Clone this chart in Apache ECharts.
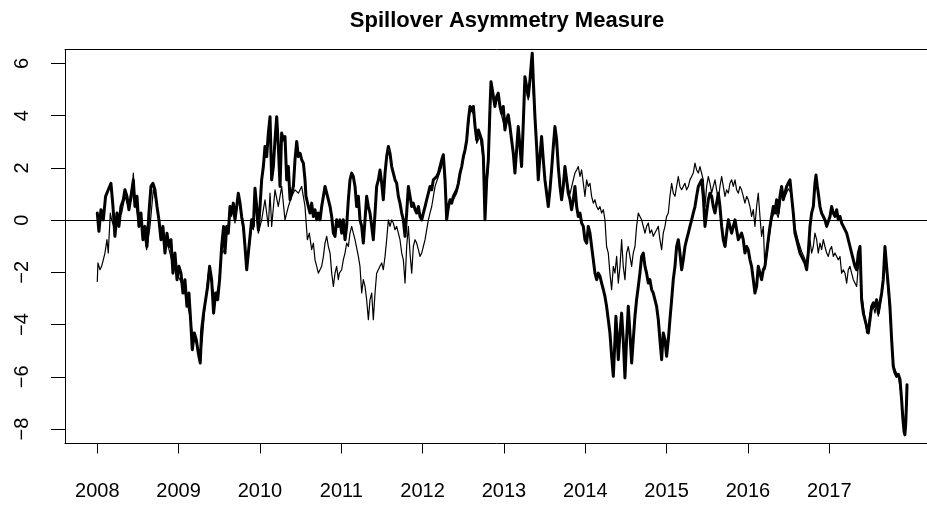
<!DOCTYPE html>
<html>
<head>
<meta charset="utf-8">
<script src="https://cdn.jsdelivr.net/npm/echarts@6/dist/echarts.min.js"></script>
<style>html,body{margin:0;padding:0;background:#fff;overflow:hidden}#c{width:927px;height:508px}</style>
</head>
<body>
<div id="c"></div>
<script>
const titleText = 'Spillover Asymmetry Measure';
const xTickYears = [2008,2009,2010,2011,2012,2013,2014,2015,2016,2017];
const yTicks = [-8,-6,-4,-2,0,2,4,6];

// thick series (first measure)
const thickYears = [
2008.000,2008.020,2008.045,2008.074,2008.102,2008.135,2008.168,2008.193,2008.217,2008.242,2008.266,2008.291,2008.320,2008.340,2008.365,2008.389,2008.414,2008.443,2008.463,2008.488,2008.512,2008.537,2008.561,2008.586,2008.611,2008.635,2008.660,2008.684,2008.709,2008.734,2008.758,2008.783,2008.807,2008.832,2008.857,2008.881,2008.906,2008.930,2008.955,2008.980,2009.004,2009.029,2009.053,2009.078,2009.102,2009.127,2009.152,2009.168,2009.193,2009.217,2009.242,2009.266,2009.283,2009.307,2009.332,2009.357,2009.381,2009.406,2009.430,2009.455,2009.480,2009.504,2009.529,2009.553,
2009.570,2009.591,2009.611,2009.632,2009.652,2009.673,2009.693,2009.714,2009.734,2009.755,2009.775,2009.796,2009.816,2009.837,2009.857,2009.878,2009.898,2009.919,2009.939,2009.960,2009.980,2010.001,2010.021,2010.042,2010.062,2010.083,2010.103,2010.124,2010.144,2010.165,2010.185,2010.206,2010.226,2010.247,2010.267,2010.288,2010.308,2010.329,2010.349,2010.370,2010.390,2010.411,2010.431,2010.452,2010.472,2010.493,2010.513,2010.534,2010.554,2010.566,2010.595,2010.616,2010.636,2010.657,2010.677,2010.698,2010.718,2010.739,2010.759,2010.780,2010.800,2010.821,2010.841,2010.862,2010.882,2010.903,2010.923,2010.943,2010.964,2010.984,2011.005,2011.025,2011.046,2011.066,2011.087,2011.107,2011.128,2011.148,2011.169,2011.189,
2011.210,2011.230,2011.251,2011.271,2011.292,2011.312,2011.333,2011.353,2011.374,2011.394,2011.415,2011.435,2011.456,2011.476,2011.497,2011.517,2011.538,2011.558,2011.579,2011.599,2011.620,2011.640,2011.661,2011.681,2011.702,2011.722,2011.743,2011.763,2011.784,2011.804,2011.825,2011.845,2011.866,2011.886,2011.907,2011.927,2011.948,2011.968,2011.989,2012.009,2012.030,2012.050,2012.071,2012.091,2012.112,2012.132,2012.153,2012.173,2012.194,2012.214,2012.235,2012.255,2012.276,2012.296,2012.317,2012.337,2012.358,2012.378,2012.399,2012.419,2012.440,2012.460,2012.481,2012.501,2012.522,2012.542,2012.563,2012.583,2012.604,2012.624,2012.645,2012.665,2012.686,2012.706,2012.727,2012.747,2012.767,2012.788,2012.808,2012.829,2012.841,2012.858,2012.870,
2012.889,2012.910,2012.930,2012.951,2012.971,2012.992,2013.012,2013.033,2013.053,2013.074,2013.094,2013.115,2013.135,2013.156,2013.176,2013.197,2013.217,2013.238,2013.258,2013.279,2013.299,2013.320,2013.340,2013.348,2013.361,2013.381,2013.402,2013.422,2013.443,2013.463,2013.484,2013.504,2013.525,2013.545,2013.566,2013.586,2013.607,2013.627,2013.648,2013.668,2013.689,2013.709,2013.730,2013.750,2013.771,2013.791,2013.812,2013.832,2013.853,2013.873,2013.894,2013.914,2013.935,2013.955,2013.976,2013.996,2014.017,2014.037,2014.058,2014.078,2014.099,2014.119,2014.140,2014.160,2014.181,2014.201,2014.222,2014.242,2014.262,2014.283,2014.303,2014.324,2014.345,2014.365,2014.377,2014.394,2014.406,2014.427,2014.447,2014.467,2014.488,2014.508,2014.529,
2014.549,2014.570,2014.590,2014.611,2014.631,2014.652,2014.672,2014.693,2014.713,2014.734,2014.754,2014.775,2014.795,2014.816,2014.836,2014.857,2014.877,2014.898,2014.918,2014.939,2014.959,2014.980,2015.000,2015.021,2015.041,2015.062,2015.082,2015.103,2015.123,2015.144,2015.164,2015.185,2015.205,2015.226,2015.246,2015.267,2015.287,2015.308,2015.328,2015.349,2015.369,2015.390,2015.410,2015.431,2015.451,2015.472,2015.492,2015.513,2015.533,2015.554,2015.574,2015.595,2015.615,2015.636,2015.656,2015.677,2015.697,2015.718,2015.738,2015.759,2015.779,2015.800,2015.820,2015.841,2015.861,2015.882,2015.902,2015.922,2015.943,2015.963,2015.984,2016.004,2016.025,2016.045,2016.066,2016.086,2016.107,2016.127,2016.148,2016.168,2016.189,
2016.209,2016.230,2016.250,2016.271,2016.291,2016.312,2016.332,2016.353,2016.373,2016.394,2016.414,2016.435,2016.455,2016.476,2016.496,2016.517,2016.537,2016.558,2016.578,2016.599,2016.619,2016.640,2016.660,2016.681,2016.701,2016.722,2016.742,2016.763,2016.783,2016.804,2016.824,2016.837,2016.853,2016.865,2016.886,2016.906,2016.927,2016.947,2016.968,2016.988,2017.009,2017.029,2017.050,2017.070,2017.091,2017.111,2017.132,2017.152,2017.173,2017.193,2017.214,2017.234,2017.255,2017.275,2017.296,2017.316,2017.337,2017.357,2017.378,2017.398,2017.419,2017.439,2017.460,2017.480,2017.501,2017.521,2017.542,2017.562,2017.582,2017.603,2017.623,2017.644,2017.664,2017.685,2017.705,2017.726,2017.746,2017.767,2017.787,2017.808,2017.828,2017.849,2017.870,2017.890,2017.905,2017.920,2017.930,2017.940,2017.950,2017.956
];
const thickVals = [
0.27,-0.43,0.40,0.01,0.91,1.16,1.41,0.52,-0.62,0.27,-0.24,0.52,0.78,1.16,0.91,0.40,0.91,1.54,0.52,0.91,-0.24,0.27,-0.75,-0.24,-1.01,0.27,1.29,1.41,1.16,0.52,0.01,-0.75,-0.24,-1.26,-0.50,-1.01,-0.75,-2.03,-1.26,-2.28,-1.77,-2.03,-2.79,-2.28,-3.30,-2.79,-4.07,-4.96,-4.32,-4.58,-5.09,-5.47,-4.19,-3.56,-3.05,-2.54,-1.77,-2.28,-3.56,-2.79,-3.05,-2.28,-1.01,-0.24,
-1.26,-0.24,-0.50,0.52,0.27,0.65,0.01,0.52,1.03,0.65,0.14,-0.24,-1.01,-1.90,-1.26,-0.62,0.01,-0.24,1.22,0.52,-0.37,0.52,1.54,2.05,2.82,2.43,3.33,3.96,1.54,2.05,3.07,3.96,2.82,1.29,3.33,3.07,3.20,1.54,2.05,0.78,1.03,1.29,2.31,3.01,2.43,2.56,2.31,2.18,1.54,0.91,0.52,0.27,0.65,0.14,0.40,0.01,0.27,0.01,0.52,0.91,1.29,1.03,0.78,0.52,0.14,-0.50,-0.62,0.01,-0.24,0.01,-0.50,0.01,-0.75,-0.24,0.78,1.54,1.80,1.67,1.29,0.52,
0.91,0.01,-0.24,-0.88,0.01,0.91,0.52,0.27,-0.24,-0.75,0.27,1.29,1.54,1.92,1.41,0.78,1.80,2.43,2.82,2.56,2.05,1.80,1.54,1.41,0.91,0.65,0.27,0.01,-0.62,0.27,1.29,0.91,0.52,0.65,0.40,0.27,0.52,0.14,0.01,0.27,0.52,0.78,1.03,1.29,1.16,1.54,1.54,1.67,1.80,2.05,2.31,2.50,1.54,0.01,0.52,0.78,0.65,0.91,0.91,1.16,1.41,1.80,2.05,2.43,2.69,3.07,3.84,4.35,4.22,4.35,3.58,3.07,3.45,3.39,3.07,2.43,0.01,1.54,2.31,4.35,5.30,4.98,4.73,
4.35,4.73,4.86,4.35,4.09,4.35,3.45,3.84,4.03,3.58,3.07,2.56,1.80,2.69,3.58,2.82,2.05,3.71,5.49,5.11,4.73,5.37,6.13,6.39,5.37,3.96,2.82,1.54,2.43,3.20,2.31,1.54,1.03,0.52,1.16,1.92,2.82,3.58,3.07,2.05,1.29,0.78,1.29,2.05,1.54,1.03,0.78,0.40,0.78,1.29,0.52,0.14,0.27,-0.11,-0.24,-0.75,-0.88,-0.24,-0.50,-1.01,-1.52,-2.03,-2.28,-2.03,-2.15,-2.41,-2.66,-2.92,-3.30,-3.81,-4.32,-5.21,-5.98,-4.58,-3.68,-4.58,-5.34,-4.32,-3.56,-4.58,-6.04,-4.58,-3.30,
-4.32,-5.47,-4.58,-3.68,-3.05,-2.54,-2.03,-1.39,-1.26,-1.77,-2.03,-2.41,-2.28,-2.66,-2.79,-3.05,-3.30,-3.81,-4.58,-5.34,-4.32,-4.58,-5.21,-4.58,-3.81,-3.05,-2.28,-1.77,-1.01,-0.75,-1.26,-1.90,-1.52,-1.01,-0.75,-0.50,-0.24,0.01,0.27,0.52,0.91,1.29,1.41,1.54,0.91,-0.24,0.27,0.78,1.03,0.91,0.52,0.27,0.65,1.03,0.52,-0.24,-0.75,-1.01,-0.50,0.01,-0.24,-0.50,-0.24,0.01,-0.37,-0.75,-0.62,-0.50,-0.75,-1.26,-1.01,-1.13,-1.52,-1.77,-2.28,-2.79,-2.54,-1.77,-2.03,-2.28,-1.90,
-1.77,-1.26,-0.75,-0.24,0.14,0.52,0.27,0.78,0.27,0.91,1.29,0.78,1.03,1.29,1.41,1.54,0.91,0.27,-0.50,-0.75,-1.01,-1.26,-1.39,-1.52,-1.64,-1.90,-1.26,-0.24,0.27,0.52,1.41,1.73,1.29,1.03,0.52,0.27,0.14,0.01,-0.24,-0.24,0.14,0.52,0.27,0.14,0.40,0.01,0.14,-0.11,-0.24,-0.24,-0.50,-0.50,-1.01,-1.26,-1.52,-1.77,-1.90,-1.26,-1.01,-3.05,-3.56,-3.81,-4.07,-4.32,-3.81,-3.30,-3.17,-3.30,-3.05,-3.56,-3.17,-2.79,-2.28,-1.01,-1.77,-2.54,-3.30,-4.58,-5.60,-5.85,-5.98,-5.90,-6.10,-6.90,-7.60,-8.10,-8.22,-7.80,-7.00,-6.30
];

// thin series (second measure)
const thinYears = [
2008.000,2008.008,2008.033,2008.053,2008.074,2008.094,2008.119,2008.135,2008.160,2008.176,2008.217,2008.258,2008.299,2008.340,2008.381,2008.422,2008.443,2008.463,2008.504,2008.545,2008.586,2008.607,2008.648,2008.689,2008.730,2008.770,2008.811,2008.852,2008.893,2008.934,2008.975,2009.016,2009.057,2009.098,2009.139,2009.180,2009.221,2009.262,2009.291,2009.324,2009.365,2009.406,2009.447,2009.488,2009.529,
2009.570,2009.591,2009.611,2009.632,2009.652,2009.673,2009.693,2009.714,2009.734,2009.755,2009.775,2009.796,2009.816,2009.837,2009.857,2009.878,2009.898,2009.919,2009.939,2009.980,2010.021,2010.062,2010.103,2010.124,2010.144,2010.185,2010.226,2010.267,2010.308,2010.349,2010.390,2010.431,2010.472,2010.513,2010.554,2010.583,2010.607,2010.636,2010.657,2010.677,2010.698,2010.718,2010.739,2010.759,2010.780,2010.800,2010.821,2010.841,2010.862,2010.882,2010.903,2010.923,2010.943,2010.964,2010.976,2011.005,2011.025,2011.046,2011.066,2011.087,2011.107,2011.128,2011.148,2011.169,2011.189,
2011.210,2011.230,2011.251,2011.271,2011.292,2011.312,2011.333,2011.353,2011.374,2011.394,2011.415,2011.435,2011.456,2011.476,2011.497,2011.517,2011.538,2011.558,2011.579,2011.599,2011.620,2011.640,2011.661,2011.681,2011.702,2011.722,2011.743,2011.763,2011.784,2011.804,2011.825,2011.845,2011.866,2011.886,2011.907,2011.927,2011.948,2011.968,2011.989,2012.009,2012.030,2012.050,2012.071,2012.091,2012.112,2012.153,2012.194,2012.235,2012.255,2012.276,2012.296,2012.337,2012.378,2012.419,2012.460,2012.501,2012.542,2012.583,2012.624,2012.665,2012.706,2012.747,2012.767,2012.788,2012.808,2012.829,2012.841,2012.870,
2012.889,2012.930,2012.971,2013.012,2013.053,2013.094,2013.135,2013.176,2013.217,2013.258,2013.299,2013.340,2013.381,2013.422,2013.463,2013.504,2013.545,2013.586,2013.627,2013.668,2013.709,2013.750,2013.791,2013.812,2013.832,2013.853,2013.873,2013.894,2013.914,2013.935,2013.955,2013.976,2013.996,2014.017,2014.037,2014.058,2014.078,2014.099,2014.119,2014.140,2014.160,2014.181,2014.201,2014.222,2014.242,2014.262,2014.283,2014.303,2014.324,2014.345,2014.365,2014.386,2014.406,2014.427,2014.447,2014.467,2014.488,2014.508,2014.529,
2014.549,2014.570,2014.590,2014.611,2014.631,2014.652,2014.672,2014.693,2014.713,2014.734,2014.754,2014.775,2014.795,2014.816,2014.836,2014.857,2014.877,2014.898,2014.918,2014.939,2014.959,2014.980,2015.000,2015.021,2015.041,2015.062,2015.082,2015.103,2015.123,2015.144,2015.164,2015.185,2015.205,2015.226,2015.246,2015.267,2015.287,2015.308,2015.328,2015.349,2015.369,2015.390,2015.410,2015.431,2015.451,2015.472,2015.492,2015.513,2015.533,2015.554,2015.574,2015.595,2015.615,2015.636,2015.656,2015.677,2015.697,2015.718,2015.738,2015.759,2015.779,2015.800,2015.820,2015.841,2015.861,2015.882,2015.902,2015.922,2015.943,2015.963,2015.984,2016.004,2016.025,2016.045,2016.066,2016.086,2016.107,2016.127,2016.148,2016.168,2016.189,
2016.209,2016.250,2016.291,2016.332,2016.373,2016.414,2016.455,2016.496,2016.537,2016.578,2016.619,2016.660,2016.701,2016.722,2016.742,2016.763,2016.783,2016.804,2016.824,2016.845,2016.865,2016.886,2016.906,2016.927,2016.947,2016.968,2016.988,2017.009,2017.029,2017.050,2017.070,2017.091,2017.111,2017.132,2017.152,2017.173,2017.193,2017.214,2017.234,2017.255,2017.275,2017.296,2017.316,2017.337,2017.357,2017.378,2017.398,2017.419,2017.439,2017.460,2017.480,2017.501,2017.521,2017.542,2017.562,2017.582,2017.603,2017.623,2017.644,2017.664,2017.685,2017.705,2017.726,2017.746,2017.767,2017.787,2017.808,2017.828,2017.849,2017.870,2017.890,2017.910,2017.925,2017.935,2017.945,2017.955
];
const thinVals = [
-2.35,-1.64,-1.90,-1.77,-1.52,-1.26,-0.75,-1.26,0.27,0.01,-0.37,0.01,0.27,0.91,0.52,0.78,1.80,0.78,0.01,-0.24,-0.75,-1.13,-0.24,1.16,0.65,-0.24,-0.50,-0.75,-1.26,-1.77,-2.03,-2.28,-2.54,-3.05,-3.68,-4.58,-4.70,-5.34,-4.58,-3.30,-2.03,-2.41,-3.05,-2.54,-1.26,
-1.13,-0.37,-0.24,0.40,0.14,0.52,-0.11,0.40,0.91,0.52,0.01,-0.37,-1.13,-1.77,-1.39,-0.75,-0.24,-0.37,0.78,-0.50,0.01,0.78,-0.24,1.03,-0.24,1.16,0.52,1.29,0.01,0.52,0.91,1.16,1.03,1.29,0.52,-0.75,-0.50,-1.13,-0.88,-1.52,-1.77,-2.03,-2.09,-1.77,-1.39,-0.88,-0.62,-1.01,-1.26,-2.03,-2.54,-2.03,-1.77,-2.28,-2.03,-1.90,-1.52,-1.26,-0.88,-1.01,-0.50,-0.24,-0.50,-0.75,-0.75,
-1.39,-1.77,-2.79,-2.28,-2.54,-3.05,-3.81,-3.05,-2.79,-3.81,-2.79,-2.03,-2.03,-1.77,-1.64,-1.90,-1.39,-0.75,0.01,-0.24,0.01,-0.11,-0.37,-0.24,-0.50,-0.75,-1.26,-1.52,-2.41,-1.01,-0.24,-1.26,-2.03,-1.01,-0.75,-0.88,-1.13,-1.39,-1.26,-1.01,-0.75,-0.37,0.01,0.27,0.52,1.29,1.67,2.05,2.31,1.29,0.14,0.65,0.78,1.03,1.67,2.31,2.94,4.22,4.09,2.94,3.20,2.31,0.27,1.29,2.05,3.96,5.11,4.60,
4.40,4.70,4.00,3.50,3.90,3.10,1.90,3.40,2.20,5.30,4.60,6.00,3.80,1.70,3.10,1.60,0.70,1.90,3.40,2.10,0.90,2.10,1.20,1.00,1.03,1.54,1.80,1.92,2.05,1.67,1.92,1.41,0.91,1.54,1.29,1.41,0.91,0.65,0.78,0.52,0.40,0.52,0.27,0.40,0.01,-1.01,-1.26,-2.03,-2.66,-1.77,-2.03,-1.39,-2.41,-1.77,-0.75,-1.77,-2.28,-1.26,-1.01,
-1.39,-1.77,-1.26,-1.01,-0.24,0.27,0.14,0.01,-0.24,-0.50,-0.24,-0.11,-0.50,-0.37,-0.62,-0.62,-0.37,-0.24,-0.75,-1.13,-0.50,-0.24,0.14,0.27,0.91,1.41,1.03,0.91,1.29,1.67,1.29,1.16,1.29,1.41,1.16,1.29,1.54,1.67,1.80,2.18,1.92,1.80,2.05,1.99,1.54,0.52,1.29,1.67,1.41,1.03,1.29,1.54,1.16,0.78,1.29,1.67,1.29,0.91,1.16,1.03,1.41,1.54,1.29,1.54,1.16,1.03,1.29,1.16,0.91,0.65,0.91,0.78,0.52,0.14,0.40,-0.24,0.52,1.03,0.14,-0.62,-0.24,
-1.90,-0.90,0.00,0.40,0.10,1.10,0.90,1.20,1.00,-0.30,-0.80,-1.20,-1.50,-1.70,-1.01,-0.75,-1.26,-1.01,-0.50,-0.75,-1.26,-0.88,-1.13,-0.75,-1.01,-1.26,-1.39,-1.13,-1.01,-1.39,-1.26,-1.39,-1.52,-1.39,-2.03,-1.90,-2.03,-2.41,-1.90,-1.77,-2.03,-2.28,-2.41,-2.54,-1.77,-1.26,-2.79,-3.30,-3.81,-4.32,-4.07,-3.56,-3.43,-3.30,-3.56,-3.17,-3.68,-3.30,-2.92,-2.41,-1.26,-2.03,-2.79,-3.56,-4.58,-5.47,-5.73,-5.85,-5.98,-6.00,-6.80,-7.70,-8.10,-7.60,-7.00,-6.40
];

const FONT = '"Liberation Sans", Arial, Helvetica, sans-serif';
const pairs = (xs, ys) => xs.map((x, i) => [x, ys[i]]);

const chart = echarts.init(document.getElementById('c'), null, {renderer: 'canvas', width: 927, height: 508});
const xMin = 2007.603;
const pxPerYear = 81.33;
const gridW = 1000;
const xMax = xMin + gridW / pxPerYear;
const frameLine = {show: true, onZero: false, lineStyle: {color: '#000', width: 1}};
chart.setOption({
  animation: false,
  backgroundColor: '#fff',
  title: {
    text: titleText, left: 502, top: 5, textAlign: 'center',
    textStyle: {fontFamily: FONT, fontSize: 22, fontWeight: 'bold', color: '#000'}
  },
  grid: {left: 65, top: 49.5, width: gridW, height: 394, show: false, containLabel: false, outerBoundsMode: 'none'},
  xAxis: [{
    type: 'value', position: 'bottom', min: xMin, max: xMax,
    axisLine: frameLine, splitLine: {show: false},
    axisTick: {show: true, inside: false, length: 10, customValues: xTickYears, lineStyle: {color: '#000', width: 1}},
    axisLabel: {show: true, customValues: xTickYears, margin: 38, fontSize: 20, fontFamily: FONT, color: '#000', formatter: v => String(Math.round(v))}
  }, {
    type: 'value', position: 'top', min: xMin, max: xMax,
    axisLine: frameLine, splitLine: {show: false}, axisTick: {show: false}, axisLabel: {show: false}
  }],
  yAxis: {
    type: 'value', position: 'left', min: -8.55, max: 6.53,
    axisLine: frameLine, splitLine: {show: false},
    axisTick: {show: true, inside: false, length: 14, customValues: yTicks, lineStyle: {color: '#000', width: 1}},
    axisLabel: {show: true, customValues: yTicks, rotate: 90, margin: 33, fontSize: 20, fontFamily: FONT, color: '#000',
      formatter: v => (v < 0 ? '\u2212' : '') + Math.abs(Math.round(v))}
  },
  series: [
    {
      type: 'line', xAxisIndex: 0, data: pairs(thinYears, thinVals), showSymbol: false, symbol: 'none',
      lineStyle: {color: '#000', width: 1.2, cap: 'round', join: 'round'}, z: 2,
      markLine: {silent: true, symbol: ['none', 'none'], label: {show: false}, data: [{yAxis: 0}],
        lineStyle: {color: '#000', type: 'solid', width: 1.2}}
    },
    {
      type: 'line', xAxisIndex: 0, data: pairs(thickYears, thickVals), showSymbol: false, symbol: 'none',
      lineStyle: {color: '#000', width: 3, cap: 'round', join: 'round'}, z: 3
    }
  ]
});
</script>
</body>
</html>
